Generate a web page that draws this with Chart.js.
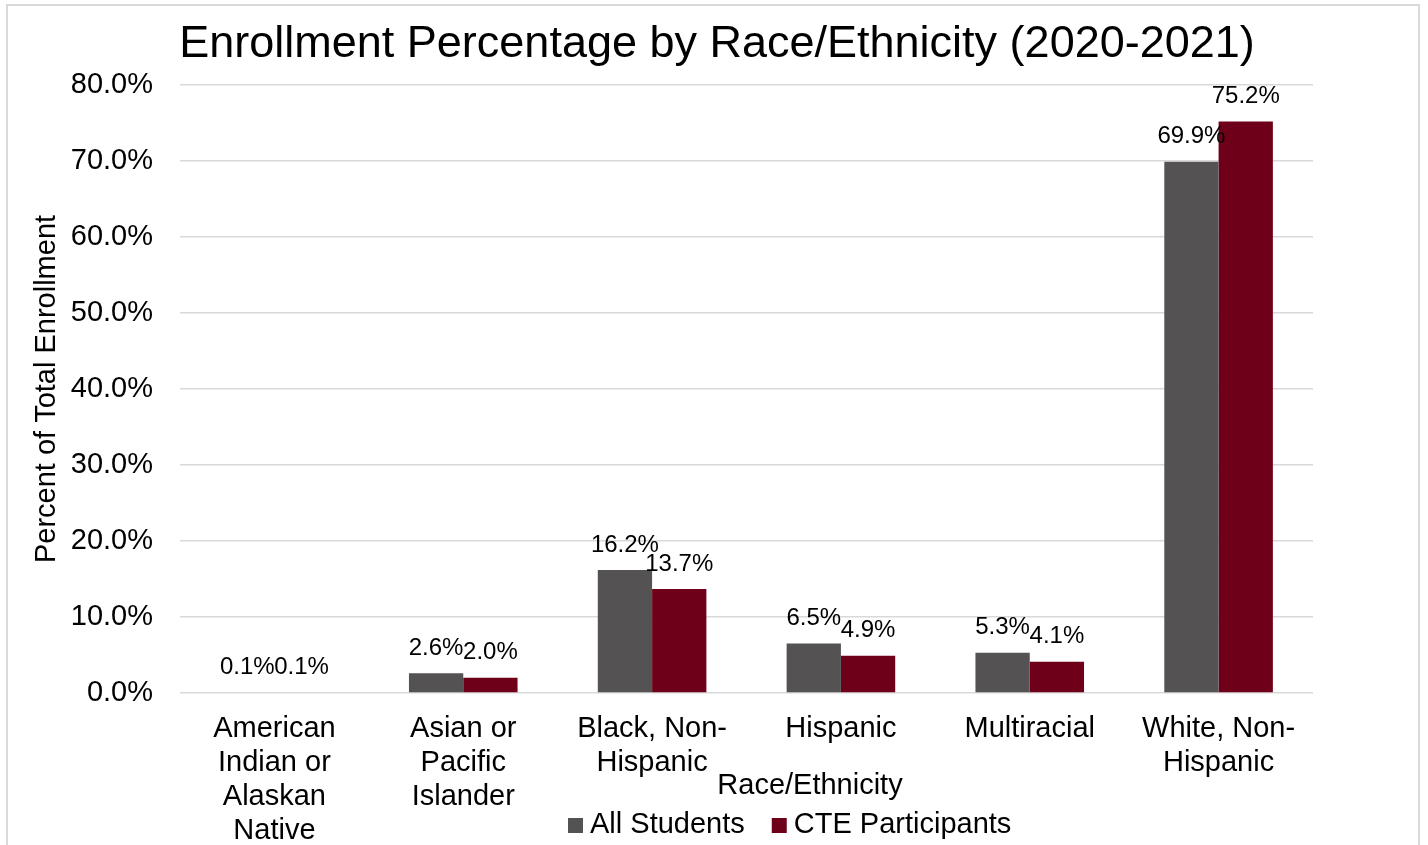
<!DOCTYPE html>
<html>
<head>
<meta charset="utf-8">
<script src="https://cdn.jsdelivr.net/npm/chart.js@4"></script>
<style>
  html, body { margin: 0; padding: 0; background: #fff; }
  #wrap { position: relative; width: 1428px; height: 845px; overflow: hidden; }
  #frame { position: absolute; left: 6px; top: 4px; width: 1414px; height: 900px; border: 2px solid #d9d9d9; box-sizing: border-box; }
  canvas { position: absolute; left: 0; top: 0; }
</style>
</head>
<body>
<div id="wrap">
  <div id="frame"></div>
  <canvas id="enrollChart" width="1428" height="845"></canvas>
</div>
<script>
// Enrollment percentage by race/ethnicity, 2020-2021
var categories = [
  ['American', 'Indian or', 'Alaskan', 'Native'],
  ['Asian or', 'Pacific', 'Islander'],
  ['Black, Non-', 'Hispanic'],
  'Hispanic',
  'Multiracial',
  ['White, Non-', 'Hispanic']
];
var allStudents = [0.1, 2.6, 16.2, 6.5, 5.3, 69.9];
var cteParticipants = [0.1, 2.0, 13.7, 4.9, 4.1, 75.2];
var seriesNames = ['All Students', 'CTE Participants'];
var seriesColors = ['#545253', '#6f0019'];
var yTicks = [0, 10, 20, 30, 40, 50, 60, 70, 80];

var FONT = '"Liberation Sans", Arial, sans-serif';

// value labels, x-axis title, legend and title drawn on the canvas
var extrasPlugin = {
  id: 'extras',
  afterDatasetsDraw: function (chart) {
    var ctx = chart.ctx;
    ctx.save();
    ctx.font = '24px ' + FONT;
    ctx.fillStyle = '#000';
    ctx.textAlign = 'center';
    ctx.textBaseline = 'middle';
    chart.data.datasets.forEach(function (ds, i) {
      chart.getDatasetMeta(i).data.forEach(function (bar, j) {
        ctx.fillText(ds.data[j].toFixed(1) + '%', bar.x, bar.y - 25);
      });
    });
    ctx.restore();
  },
  afterDraw: function (chart) {
    var ctx = chart.ctx;
    ctx.save();
    ctx.fillStyle = '#000';
    ctx.textBaseline = 'middle';

    // title
    ctx.font = '45px ' + FONT;
    ctx.textAlign = 'center';
    ctx.fillText('Enrollment Percentage by Race/Ethnicity (2020-2021)', 717, 45);

    // x-axis title
    ctx.font = '29px ' + FONT;
    ctx.fillText('Race/Ethnicity', 810, 786);

    // legend
    ctx.textAlign = 'left';
    var lx = 568;
    seriesNames.forEach(function (name, i) {
      ctx.fillStyle = seriesColors[i];
      ctx.fillRect(lx, 818, 15, 15);
      ctx.fillStyle = '#000';
      ctx.fillText(name, lx + 22, 825);
      lx += 22 + ctx.measureText(name).width + 27;
    });
    ctx.restore();
  }
};

var ctx = document.getElementById('enrollChart').getContext('2d');
var enrollChart = new Chart(ctx, {
  type: 'bar',
  data: {
    labels: categories,
    datasets: [
      {
        label: seriesNames[0],
        data: allStudents,
        backgroundColor: seriesColors[0],
        borderWidth: 0
      },
      {
        label: seriesNames[1],
        data: cteParticipants,
        backgroundColor: seriesColors[1],
        borderWidth: 0
      }
    ]
  },
  options: {
    responsive: false,
    animation: false,
    devicePixelRatio: 1,
    layout: {
      padding: { top: 85, right: 115, left: 0, bottom: 0 }
    },
    plugins: {
      legend: { display: false },
      title: { display: false },
      tooltip: { enabled: false }
    },
    datasets: {
      bar: {
        categoryPercentage: 0.575,
        barPercentage: 1.0
      }
    },
    scales: {
      x: {
        grid: { display: false, drawTicks: false },
        border: { display: false },
        ticks: {
          color: '#000',
          font: { family: FONT, size: 29, lineHeight: 1.17 },
          padding: 19,
          maxRotation: 0,
          autoSkip: false
        },
        afterFit: function (axis) { axis.height = 152; }
      },
      y: {
        min: 0,
        max: 80,
        afterBuildTicks: function (axis) {
          axis.ticks = yTicks.map(function (v) { return { value: v }; });
        },
        grid: { color: '#d9d9d9', lineWidth: 1.5, drawTicks: false },
        border: { display: false },
        ticks: {
          color: '#000',
          font: { family: FONT, size: 29 },
          padding: 27,
          callback: function (v) { return v.toFixed(1) + '%'; }
        },
        title: {
          display: true,
          text: 'Percent of Total Enrollment',
          color: '#000',
          font: { family: FONT, size: 29 },
          padding: { top: 30, bottom: 0 }
        },
        afterFit: function (axis) { axis.width = 180; }
      }
    }
  },
  plugins: [extrasPlugin]
});
</script>
</body>
</html>
